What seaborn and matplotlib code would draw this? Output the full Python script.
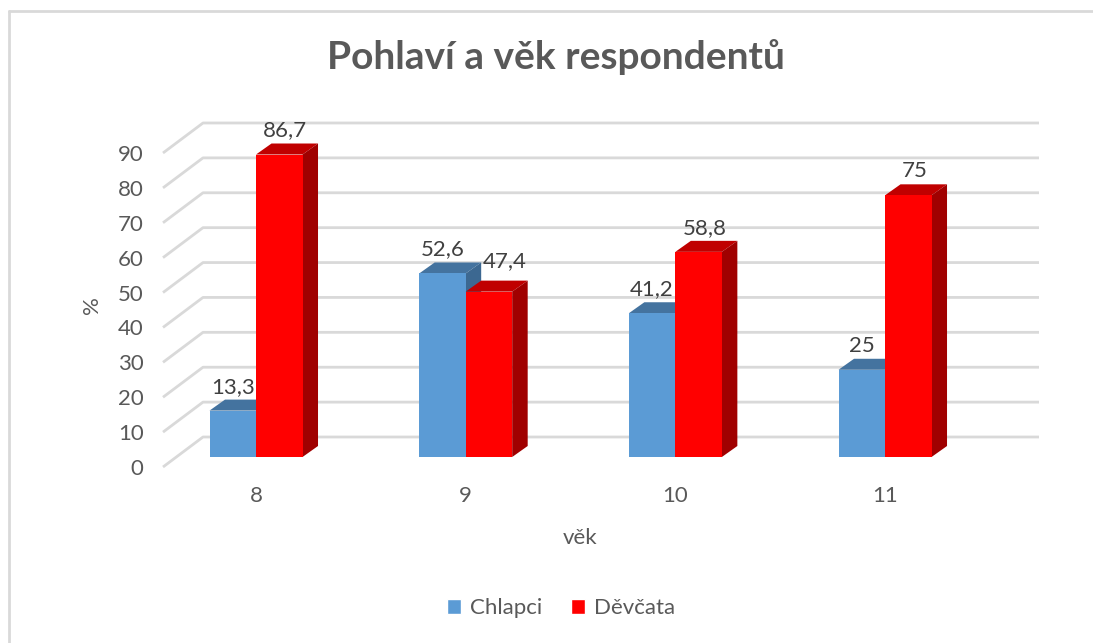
import numpy as np
import pandas as pd
import seaborn as sns
import matplotlib.pyplot as plt
from matplotlib.lines import Line2D
from matplotlib.patches import Patch, Polygon
from matplotlib.transforms import ScaledTranslation

# chart data
ages = ['8', '9', '10', '11']
chlapci = [13.3, 52.6, 41.2, 25]
devcata = [86.7, 47.4, 58.8, 75]
series_names = ['Chlapci', 'Děvčata']
yticks = list(range(0, 100, 10))

# colours (front, top, side)
blue = ('#5B9BD5', '#44739F', '#3C6891')
red = ('#FF0000', '#C00000', '#A00000')
grid_col = '#D9D9D9'
text_col = '#595959'

df = pd.DataFrame({
    'vek': ages * 2,
    'pct': chlapci + devcata,
    'pohlavi': [series_names[0]] * len(ages) + [series_names[1]] * len(ages),
})

sns.set_style('white')
plt.rcParams['font.family'] = ['Lato', 'DejaVu Sans']

W, H = 1093, 643
fig = plt.figure(figsize=(W / 100, H / 100), dpi=100)
# axes = plane of the bar fronts; y=0 sits on the bar bottoms
ax = fig.add_axes([163 / W, (H - 457) / H, 876 / W, 348.9 / H])

sns.barplot(data=df, x='vek', y='pct', hue='pohlavi', order=ages,
            hue_order=series_names,
            palette={series_names[0]: blue[0], series_names[1]: red[0]},
            width=0.4436, ax=ax, legend=False, saturation=1)

ax.set_xlim(-0.4436, 3.7344)
ax.set_ylim(0, 100)
for s in ax.spines.values():
    s.set_visible(False)
ax.set_xlabel('')
ax.set_ylabel('')

# pixel -> data scale
p0 = ax.transData.transform((0, 0))
p1 = ax.transData.transform((1, 1))
sx, sy = p1[0] - p0[0], p1[1] - p0[1]

# 3D floor / back wall gridlines
depth_x, back_up, front_down = 40, 20, 10
x0, x1 = ax.get_xlim()
xb = x0 + depth_x / sx
for v in yticks:
    yb = v + back_up / sy
    yf = v - front_down / sy
    ax.plot([x0, xb, x1], [yf, yb, yb], color=grid_col, lw=2,
            zorder=0, clip_on=False, solid_capstyle='butt')

# extruded faces for every bar
ddx, ddy = 15.5 / sx, 11 / sy
bars = list(ax.patches)
blue_rgb = plt.matplotlib.colors.to_rgb(blue[0])
blue_bars = {round(p.get_x() + p.get_width(), 3): p.get_height()
             for p in bars if np.allclose(p.get_facecolor()[:3], blue_rgb, atol=0.02)}
for p in bars:
    is_blue = np.allclose(p.get_facecolor()[:3], blue_rgb, atol=0.02)
    cols = blue if is_blue else red
    z = 2 if is_blue else 3
    bx0, bw, h = p.get_x(), p.get_width(), p.get_height()
    bx1 = bx0 + bw
    p.set_zorder(z + 0.2)
    p.set_edgecolor('none')
    top = Polygon([(bx0, h), (bx1, h), (bx1 + ddx, h + ddy), (bx0 + ddx, h + ddy)],
                  closed=True, facecolor=cols[1], edgecolor='none', zorder=z)
    side = Polygon([(bx1, 0), (bx1, h), (bx1 + ddx, h + ddy), (bx1 + ddx, ddy)],
                   closed=True, facecolor=cols[2], edgecolor='none', zorder=z + 0.1)
    ax.add_patch(top)
    ax.add_patch(side)
    lab = f'{h:g}'.replace('.', ',')
    dx_pt, dy_pt = (0, 24) if is_blue else (6, 24)
    # nudge a red label that would collide with its blue neighbour
    if not is_blue:
        hb = blue_bars.get(round(bx0, 3))
        if hb is not None and abs(hb - h) < 10:
            dx_pt, dy_pt = 16, 31
    ax.annotate(lab, (bx0 + bw / 2, h), xytext=(dx_pt * 0.72, dy_pt * 0.72),
                textcoords='offset points', ha='center', va='center',
                fontsize=16, color='#404040', zorder=6)

# ticks
ax.set_yticks(yticks)
ax.set_yticklabels([str(v) for v in yticks])
ax.tick_params(axis='y', length=0, pad=14, labelsize=16, labelcolor=text_col)
ax.tick_params(axis='x', length=0, pad=21, labelsize=16, labelcolor=text_col)
shift = ScaledTranslation(0, -front_down / 100, fig.dpi_scale_trans)
for t in ax.get_yticklabels():
    t.set_transform(t.get_transform() + shift)

# titles and labels
fig.text(556 / W, 1 - 57 / H, 'Pohlaví a věk respondentů', ha='center', va='center',
         fontsize=28, fontweight='bold', color=text_col)
fig.text(92 / W, 1 - 305 / H, '%', rotation=90, ha='center', va='center',
         fontsize=16, color=text_col)
fig.text(580 / W, 1 - 538 / H, 'věk', ha='center', va='center',
         fontsize=16, color=text_col)

handles = [Patch(facecolor=blue[0]), Patch(facecolor=red[0])]
fig.legend(handles, series_names, loc='center', bbox_to_anchor=(561 / W, 1 - 608 / H),
           ncol=2, frameon=False, handlelength=0.65, handleheight=0.65,
           handletextpad=0.4, columnspacing=1.3, fontsize=16, labelcolor=text_col)

# chart border (left and top only visible)
fig.add_artist(Line2D([8.5 / W, 8.5 / W], [0, 1 - 10.5 / H], color=grid_col, lw=2,
                      transform=fig.transFigure))
fig.add_artist(Line2D([8.5 / W, 1], [1 - 10.5 / H, 1 - 10.5 / H], color=grid_col, lw=2,
                      transform=fig.transFigure))

fig.savefig('out.png', dpi=100)
